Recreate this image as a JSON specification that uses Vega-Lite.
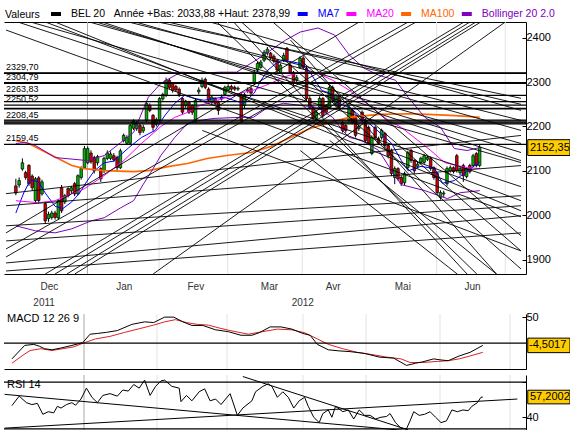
{
  "$schema": "https://vega.github.io/schema/vega-lite/v6.json",
  "background": "white",
  "padding": {"left": 3, "top": 7, "right": 0, "bottom": 0},
  "config": {
    "view": {"stroke": null},
    "font": "Liberation Sans",
    "axis": {"labelFont": "Liberation Sans", "titleFont": "Liberation Sans"},
    "legend": {"labelFont": "Liberation Sans", "titleFont": "Liberation Sans"},
    "title": {"font": "Liberation Sans"}
  },
  "spacing": 4,
  "resolve": {"scale": {"x": "independent", "y": "independent", "color": "independent"}},
  "datasets": {
    "grid": [{"b": 22.92}, {"b": 44.84}, {"b": 65.87}, {"b": 88.69}, {"b": 107.61}, {"b": 129.83}, {"b": 150.85}],
    "candles": [
      {"i":1,"o":2066,"h":2082,"l":2045,"c":2050},{"i":2,"o":2068,"h":2085,"l":2062,"c":2078},{"i":3,"o":2104,"h":2128,"l":2100,"c":2118},
      {"i":4,"o":2096,"h":2100,"l":2080,"c":2085},{"i":5,"o":2112,"h":2115,"l":2066,"c":2071},{"i":6,"o":2088,"h":2092,"l":2055,"c":2062},
      {"i":7,"o":2033,"h":2086,"l":2028,"c":2082},{"i":8,"o":2084,"h":2088,"l":2028,"c":2033},{"i":9,"o":2048,"h":2080,"l":2044,"c":2075},
      {"i":10,"o":2026,"h":2030,"l":1980,"c":1987},{"i":11,"o":1992,"h":2008,"l":1985,"c":2002},{"i":12,"o":1995,"h":2010,"l":1990,"c":2005},
      {"i":13,"o":2005,"h":2010,"l":1990,"c":1995},{"i":14,"o":1994,"h":2036,"l":1990,"c":2033},{"i":15,"o":2062,"h":2068,"l":2005,"c":2010},
      {"i":16,"o":2030,"h":2048,"l":2025,"c":2044},{"i":17,"o":2060,"h":2063,"l":2040,"c":2044},{"i":18,"o":2055,"h":2066,"l":2050,"c":2062},
      {"i":19,"o":2071,"h":2075,"l":2043,"c":2048},{"i":20,"o":2048,"h":2092,"l":2045,"c":2089},{"i":21,"o":2085,"h":2110,"l":2080,"c":2105},
      {"i":22,"o":2107,"h":2156,"l":2104,"c":2150},{"i":23,"o":2118,"h":2155,"l":2115,"c":2150},{"i":24,"o":2140,"h":2146,"l":2116,"c":2120},
      {"i":25,"o":2130,"h":2134,"l":2094,"c":2100},{"i":26,"o":2118,"h":2136,"l":2112,"c":2132},{"i":27,"o":2105,"h":2108,"l":2075,"c":2082},
      {"i":28,"o":2100,"h":2132,"l":2095,"c":2128},{"i":29,"o":2128,"h":2146,"l":2124,"c":2140},{"i":30,"o":2128,"h":2144,"l":2124,"c":2138},
      {"i":31,"o":2134,"h":2140,"l":2120,"c":2125},{"i":32,"o":2130,"h":2134,"l":2100,"c":2107},{"i":33,"o":2107,"h":2150,"l":2104,"c":2145},
      {"i":34,"o":2168,"h":2184,"l":2164,"c":2180},{"i":35,"o":2162,"h":2180,"l":2158,"c":2175},{"i":36,"o":2162,"h":2206,"l":2158,"c":2202},
      {"i":37,"o":2196,"h":2216,"l":2192,"c":2212},{"i":38,"o":2195,"h":2212,"l":2190,"c":2207},{"i":39,"o":2202,"h":2206,"l":2180,"c":2186},
      {"i":40,"o":2190,"h":2204,"l":2185,"c":2198},{"i":41,"o":2214,"h":2256,"l":2210,"c":2252},{"i":42,"o":2247,"h":2252,"l":2232,"c":2236},
      {"i":43,"o":2225,"h":2228,"l":2190,"c":2198},{"i":44,"o":2205,"h":2220,"l":2200,"c":2215},{"i":45,"o":2214,"h":2266,"l":2210,"c":2263},
      {"i":46,"o":2262,"h":2276,"l":2258,"c":2272},{"i":47,"o":2270,"h":2310,"l":2266,"c":2304},{"i":48,"o":2304,"h":2308,"l":2284,"c":2288},
      {"i":49,"o":2297,"h":2300,"l":2276,"c":2281},{"i":50,"o":2290,"h":2294,"l":2278,"c":2282},{"i":51,"o":2284,"h":2288,"l":2266,"c":2272},
      {"i":52,"o":2263,"h":2266,"l":2226,"c":2232},{"i":53,"o":2247,"h":2260,"l":2242,"c":2257},{"i":54,"o":2254,"h":2258,"l":2228,"c":2232},
      {"i":55,"o":2247,"h":2250,"l":2226,"c":2232},{"i":56,"o":2214,"h":2262,"l":2208,"c":2259},{"i":57,"o":2278,"h":2288,"l":2272,"c":2282},
      {"i":58,"o":2290,"h":2310,"l":2286,"c":2304},{"i":59,"o":2306,"h":2310,"l":2284,"c":2288},{"i":60,"o":2284,"h":2288,"l":2254,"c":2259},
      {"i":61,"o":2254,"h":2270,"l":2250,"c":2266},{"i":62,"o":2263,"h":2266,"l":2248,"c":2252},{"i":63,"o":2254,"h":2258,"l":2226,"c":2236},
      {"i":64,"o":2262,"h":2272,"l":2258,"c":2266},{"i":65,"o":2272,"h":2292,"l":2268,"c":2288},{"i":66,"o":2282,"h":2295,"l":2280,"c":2290},
      {"i":67,"o":2290,"h":2294,"l":2280,"c":2284},{"i":68,"o":2288,"h":2292,"l":2280,"c":2284},{"i":69,"o":2284,"h":2290,"l":2280,"c":2286},
      {"i":70,"o":2272,"h":2276,"l":2208,"c":2214},{"i":71,"o":2247,"h":2276,"l":2240,"c":2272},{"i":72,"o":2280,"h":2288,"l":2275,"c":2282},
      {"i":73,"o":2285,"h":2290,"l":2270,"c":2275},{"i":74,"o":2297,"h":2328,"l":2294,"c":2322},{"i":75,"o":2327,"h":2346,"l":2322,"c":2342},
      {"i":76,"o":2333,"h":2350,"l":2330,"c":2345},{"i":77,"o":2349,"h":2372,"l":2345,"c":2367},{"i":78,"o":2365,"h":2379,"l":2360,"c":2374},
      {"i":79,"o":2365,"h":2368,"l":2350,"c":2354},{"i":80,"o":2358,"h":2362,"l":2342,"c":2347},{"i":81,"o":2349,"h":2352,"l":2322,"c":2327},
      {"i":82,"o":2322,"h":2342,"l":2318,"c":2338},{"i":83,"o":2349,"h":2366,"l":2345,"c":2360},{"i":84,"o":2376,"h":2379,"l":2345,"c":2349},
      {"i":85,"o":2338,"h":2342,"l":2318,"c":2322},{"i":86,"o":2322,"h":2325,"l":2292,"c":2297},{"i":87,"o":2305,"h":2316,"l":2300,"c":2310},
      {"i":88,"o":2333,"h":2358,"l":2330,"c":2354},{"i":89,"o":2354,"h":2358,"l":2328,"c":2333},{"i":90,"o":2331,"h":2335,"l":2258,"c":2263},
      {"i":91,"o":2263,"h":2268,"l":2238,"c":2243},{"i":92,"o":2243,"h":2247,"l":2212,"c":2218},{"i":93,"o":2218,"h":2236,"l":2214,"c":2232},
      {"i":94,"o":2243,"h":2268,"l":2240,"c":2263},{"i":95,"o":2263,"h":2266,"l":2220,"c":2225},{"i":96,"o":2247,"h":2250,"l":2228,"c":2232},
      {"i":97,"o":2243,"h":2292,"l":2240,"c":2288},{"i":98,"o":2288,"h":2292,"l":2254,"c":2259},{"i":99,"o":2247,"h":2274,"l":2243,"c":2270},
      {"i":100,"o":2263,"h":2266,"l":2238,"c":2243},{"i":101,"o":2209,"h":2212,"l":2186,"c":2191},{"i":102,"o":2202,"h":2205,"l":2186,"c":2191},
      {"i":103,"o":2214,"h":2248,"l":2210,"c":2243},{"i":104,"o":2236,"h":2240,"l":2205,"c":2209},{"i":105,"o":2220,"h":2224,"l":2175,"c":2180},
      {"i":106,"o":2195,"h":2205,"l":2190,"c":2200},{"i":107,"o":2232,"h":2236,"l":2210,"c":2214},{"i":108,"o":2214,"h":2218,"l":2162,"c":2168},
      {"i":109,"o":2198,"h":2202,"l":2158,"c":2162},{"i":110,"o":2139,"h":2180,"l":2135,"c":2175},{"i":111,"o":2198,"h":2202,"l":2170,"c":2175},
      {"i":112,"o":2173,"h":2177,"l":2158,"c":2162},{"i":113,"o":2175,"h":2195,"l":2170,"c":2191},{"i":114,"o":2184,"h":2188,"l":2152,"c":2157},
      {"i":115,"o":2157,"h":2160,"l":2128,"c":2134},{"i":116,"o":2146,"h":2150,"l":2088,"c":2094},{"i":117,"o":2085,"h":2110,"l":2070,"c":2105},
      {"i":118,"o":2105,"h":2108,"l":2078,"c":2082},{"i":119,"o":2085,"h":2090,"l":2066,"c":2071},{"i":120,"o":2073,"h":2098,"l":2068,"c":2094},
      {"i":121,"o":2107,"h":2145,"l":2103,"c":2141},{"i":122,"o":2146,"h":2150,"l":2118,"c":2123},{"i":123,"o":2123,"h":2126,"l":2094,"c":2100},
      {"i":124,"o":2110,"h":2120,"l":2105,"c":2115},{"i":125,"o":2119,"h":2132,"l":2115,"c":2128},{"i":126,"o":2119,"h":2138,"l":2115,"c":2134},
      {"i":127,"o":2126,"h":2134,"l":2122,"c":2130},{"i":128,"o":2128,"h":2132,"l":2100,"c":2105},{"i":129,"o":2107,"h":2110,"l":2080,"c":2085},
      {"i":130,"o":2094,"h":2097,"l":2046,"c":2051},{"i":131,"o":2040,"h":2056,"l":2035,"c":2051},{"i":132,"o":2048,"h":2055,"l":2040,"c":2050},
      {"i":133,"o":2071,"h":2110,"l":2066,"c":2105},{"i":134,"o":2100,"h":2112,"l":2096,"c":2107},{"i":135,"o":2107,"h":2110,"l":2094,"c":2098},
      {"i":136,"o":2134,"h":2138,"l":2096,"c":2100},{"i":137,"o":2096,"h":2110,"l":2090,"c":2105},{"i":138,"o":2112,"h":2116,"l":2075,"c":2089},
      {"i":139,"o":2087,"h":2108,"l":2083,"c":2105},{"i":140,"o":2112,"h":2116,"l":2094,"c":2098},{"i":141,"o":2112,"h":2138,"l":2108,"c":2134},
      {"i":142,"o":2139,"h":2142,"l":2108,"c":2112},{"i":143,"o":2112,"h":2158,"l":2108,"c":2152.35}
    ],
    "ma": [
      {"s":"MA7","i":1.00,"v":2005},{"s":"MA7","i":3.40,"v":2050},{"s":"MA7","i":5.50,"v":2080},{"s":"MA7","i":7.91,"v":2075},{"s":"MA7","i":10.01,"v":2050},
      {"s":"MA7","i":13.01,"v":2020},{"s":"MA7","i":15.41,"v":2015},{"s":"MA7","i":18.12,"v":2030},{"s":"MA7","i":20.52,"v":2050},{"s":"MA7","i":22.62,"v":2075},
      {"s":"MA7","i":25.02,"v":2100},{"s":"MA7","i":28.03,"v":2118},{"s":"MA7","i":31.03,"v":2122},{"s":"MA7","i":35.53,"v":2152},{"s":"MA7","i":39.44,"v":2175},
      {"s":"MA7","i":43.64,"v":2191},{"s":"MA7","i":46.65,"v":2225},{"s":"MA7","i":49.65,"v":2252},{"s":"MA7","i":52.65,"v":2270},{"s":"MA7","i":55.66,"v":2263},
      {"s":"MA7","i":58.66,"v":2259},{"s":"MA7","i":61.66,"v":2263},{"s":"MA7","i":64.66,"v":2266},{"s":"MA7","i":67.67,"v":2259},{"s":"MA7","i":70.67,"v":2252},
      {"s":"MA7","i":73.97,"v":2275},{"s":"MA7","i":76.08,"v":2304},{"s":"MA7","i":78.18,"v":2327},{"s":"MA7","i":81.18,"v":2345},{"s":"MA7","i":82.98,"v":2349},
      {"s":"MA7","i":88.09,"v":2342},{"s":"MA7","i":91.09,"v":2322},{"s":"MA7","i":93.19,"v":2297},{"s":"MA7","i":94.69,"v":2281},{"s":"MA7","i":97.10,"v":2275},
      {"s":"MA7","i":99.20,"v":2254},{"s":"MA7","i":103.10,"v":2243},{"s":"MA7","i":107.00,"v":2220},{"s":"MA7","i":111.51,"v":2192},{"s":"MA7","i":116.02,"v":2162},
      {"s":"MA7","i":119.02,"v":2123},{"s":"MA7","i":121.12,"v":2100},{"s":"MA7","i":125.02,"v":2110},{"s":"MA7","i":129.23,"v":2105},{"s":"MA7","i":131.63,"v":2072},
      {"s":"MA7","i":135.23,"v":2078},{"s":"MA7","i":138.24,"v":2094},{"s":"MA7","i":143.04,"v":2120},
      {"s":"MA20","i":1.00,"v":2032.6},{"s":"MA20","i":7.91,"v":2028.1},{"s":"MA20","i":13.01,"v":2032.6},{"s":"MA20","i":18.12,"v":2048.5},{"s":"MA20","i":22.02,"v":2059.8},
      {"s":"MA20","i":28.03,"v":2089.2},{"s":"MA20","i":34.03,"v":2123.1},{"s":"MA20","i":39.44,"v":2161.6},{"s":"MA20","i":45.44,"v":2200.0},{"s":"MA20","i":49.65,"v":2220.4},
      {"s":"MA20","i":53.55,"v":2231.7},{"s":"MA20","i":57.46,"v":2247.5},{"s":"MA20","i":61.66,"v":2256.6},{"s":"MA20","i":65.56,"v":2265.6},{"s":"MA20","i":69.47,"v":2274.7},
      {"s":"MA20","i":73.67,"v":2281.5},{"s":"MA20","i":79.08,"v":2297.3},{"s":"MA20","i":82.98,"v":2311.1},{"s":"MA20","i":88.09,"v":2322.2},{"s":"MA20","i":93.19,"v":2319.9},
      {"s":"MA20","i":98.00,"v":2304.1},{"s":"MA20","i":103.10,"v":2281.5},{"s":"MA20","i":109.11,"v":2247.5},{"s":"MA20","i":115.11,"v":2213.6},{"s":"MA20","i":119.02,"v":2197.8},
      {"s":"MA20","i":124.12,"v":2168.4},{"s":"MA20","i":128.03,"v":2145.7},{"s":"MA20","i":132.23,"v":2118.6},{"s":"MA20","i":136.14,"v":2111.8},{"s":"MA20","i":139.14,"v":2107.3},
      {"s":"MA20","i":143.04,"v":2105.0},
      {"s":"MA100","i":1.00,"v":2168.0},{"s":"MA100","i":4.90,"v":2161.6},{"s":"MA100","i":10.91,"v":2139.0},{"s":"MA100","i":18.12,"v":2111.8},{"s":"MA100","i":22.02,"v":2105.0},
      {"s":"MA100","i":28.03,"v":2100.5},{"s":"MA100","i":37.04,"v":2098.2},{"s":"MA100","i":41.54,"v":2100.5},{"s":"MA100","i":47.55,"v":2109.5},{"s":"MA100","i":53.55,"v":2116.3},
      {"s":"MA100","i":59.56,"v":2127.6},{"s":"MA100","i":65.56,"v":2134.4},{"s":"MA100","i":73.07,"v":2141.2},{"s":"MA100","i":79.08,"v":2154.8},{"s":"MA100","i":85.08,"v":2175.1},
      {"s":"MA100","i":91.09,"v":2195.5},{"s":"MA100","i":97.10,"v":2209.1},{"s":"MA100","i":103.10,"v":2220.4},{"s":"MA100","i":112.11,"v":2227.2},{"s":"MA100","i":121.12,"v":2228.5},
      {"s":"MA100","i":127.13,"v":2227.2},{"s":"MA100","i":134.03,"v":2224.9},{"s":"MA100","i":139.14,"v":2222.7},{"s":"MA100","i":143.04,"v":2220.4},
      {"s":"Bollinger 20 2.0","b":"up","i":1.00,"v":2161.6},{"s":"Bollinger 20 2.0","b":"up","i":4.00,"v":2163.8},{"s":"Bollinger 20 2.0","b":"up","i":7.01,"v":2157.0},
      {"s":"Bollinger 20 2.0","b":"up","i":13.01,"v":2129.9},{"s":"Bollinger 20 2.0","b":"up","i":22.92,"v":2123.1},{"s":"Bollinger 20 2.0","b":"up","i":28.03,"v":2134.4},
      {"s":"Bollinger 20 2.0","b":"up","i":33.13,"v":2163.8},{"s":"Bollinger 20 2.0","b":"up","i":37.04,"v":2186.5},{"s":"Bollinger 20 2.0","b":"up","i":41.54,"v":2265.6},
      {"s":"Bollinger 20 2.0","b":"up","i":45.44,"v":2297.3},{"s":"Bollinger 20 2.0","b":"up","i":51.45,"v":2322.2},{"s":"Bollinger 20 2.0","b":"up","i":57.46,"v":2319.9},
      {"s":"Bollinger 20 2.0","b":"up","i":63.46,"v":2322.2},{"s":"Bollinger 20 2.0","b":"up","i":68.57,"v":2322.2},{"s":"Bollinger 20 2.0","b":"up","i":74.57,"v":2349.4},
      {"s":"Bollinger 20 2.0","b":"up","i":79.08,"v":2372.0},{"s":"Bollinger 20 2.0","b":"up","i":83.58,"v":2394.6},{"s":"Bollinger 20 2.0","b":"up","i":88.09,"v":2412.7},
      {"s":"Bollinger 20 2.0","b":"up","i":93.49,"v":2421.8},{"s":"Bollinger 20 2.0","b":"up","i":98.60,"v":2405.9},{"s":"Bollinger 20 2.0","b":"up","i":103.10,"v":2360.7},
      {"s":"Bollinger 20 2.0","b":"up","i":107.61,"v":2331.3},{"s":"Bollinger 20 2.0","b":"up","i":112.11,"v":2315.4},{"s":"Bollinger 20 2.0","b":"up","i":117.22,"v":2304.1},
      {"s":"Bollinger 20 2.0","b":"up","i":121.12,"v":2265.6},{"s":"Bollinger 20 2.0","b":"up","i":126.23,"v":2220.4},{"s":"Bollinger 20 2.0","b":"up","i":131.03,"v":2197.8},
      {"s":"Bollinger 20 2.0","b":"up","i":135.23,"v":2150.3},{"s":"Bollinger 20 2.0","b":"up","i":139.14,"v":2145.7},{"s":"Bollinger 20 2.0","b":"up","i":143.04,"v":2152.5},
      {"s":"Bollinger 20 2.0","b":"lo","i":1.00,"v":1976.1},{"s":"Bollinger 20 2.0","b":"lo","i":7.01,"v":1964.8},{"s":"Bollinger 20 2.0","b":"lo","i":13.01,"v":1960.2},
      {"s":"Bollinger 20 2.0","b":"lo","i":18.12,"v":1969.3},{"s":"Bollinger 20 2.0","b":"lo","i":24.12,"v":1987.4},{"s":"Bollinger 20 2.0","b":"lo","i":28.03,"v":1994.2},
      {"s":"Bollinger 20 2.0","b":"lo","i":33.13,"v":2016.8},{"s":"Bollinger 20 2.0","b":"lo","i":37.04,"v":2032.6},{"s":"Bollinger 20 2.0","b":"lo","i":40.04,"v":2070},
      {"s":"Bollinger 20 2.0","b":"lo","i":43.04,"v":2105},{"s":"Bollinger 20 2.0","b":"lo","i":45.44,"v":2135},{"s":"Bollinger 20 2.0","b":"lo","i":49.65,"v":2175.2},
      {"s":"Bollinger 20 2.0","b":"lo","i":53.55,"v":2206.8},{"s":"Bollinger 20 2.0","b":"lo","i":57.46,"v":2213.6},{"s":"Bollinger 20 2.0","b":"lo","i":61.66,"v":2218.1},
      {"s":"Bollinger 20 2.0","b":"lo","i":69.47,"v":2220.4},{"s":"Bollinger 20 2.0","b":"lo","i":73.67,"v":2220.4},{"s":"Bollinger 20 2.0","b":"lo","i":78.18,"v":2243.0},
      {"s":"Bollinger 20 2.0","b":"lo","i":82.98,"v":2252.1},{"s":"Bollinger 20 2.0","b":"lo","i":88.09,"v":2247.5},{"s":"Bollinger 20 2.0","b":"lo","i":93.19,"v":2243.0},
      {"s":"Bollinger 20 2.0","b":"lo","i":98.00,"v":2220.4},{"s":"Bollinger 20 2.0","b":"lo","i":101.00,"v":2191.0},{"s":"Bollinger 20 2.0","b":"lo","i":103.10,"v":2175.2},
      {"s":"Bollinger 20 2.0","b":"lo","i":107.00,"v":2168.4},{"s":"Bollinger 20 2.0","b":"lo","i":112.11,"v":2145.7},{"s":"Bollinger 20 2.0","b":"lo","i":116.02,"v":2100.5},
      {"s":"Bollinger 20 2.0","b":"lo","i":119.02,"v":2068.8},{"s":"Bollinger 20 2.0","b":"lo","i":126.23,"v":2055.3},{"s":"Bollinger 20 2.0","b":"lo","i":133.13,"v":2037.2},
      {"s":"Bollinger 20 2.0","b":"lo","i":137.04,"v":2050.7},{"s":"Bollinger 20 2.0","b":"lo","i":143.04,"v":2055.3}
    ],
    "trend": [
      {"id":"d1","i":-2.0,"v":2417.2},{"id":"d1","i":155.66,"v":1996.4},
      {"id":"d2","i":1.60,"v":2435.3},{"id":"d2","i":155.66,"v":2064.3},
      {"id":"d3","i":5.50,"v":2435.3},{"id":"d3","i":155.66,"v":2118.6},
      {"id":"d4","i":10.01,"v":2435.3},{"id":"d4","i":155.66,"v":2032.6},
      {"id":"d5","i":13.01,"v":2435.3},{"id":"d5","i":155.66,"v":2010.0},
      {"id":"d6","i":23.52,"v":2435.3},{"id":"d6","i":155.66,"v":2161.6},
      {"id":"d7","i":25.62,"v":2435.3},{"id":"d7","i":155.66,"v":2141.2},
      {"id":"d8","i":27.43,"v":2435.3},{"id":"d8","i":155.66,"v":2123.1},
      {"id":"d9","i":35.53,"v":2435.3},{"id":"d9","i":155.66,"v":2213.6},
      {"id":"d10","i":37.64,"v":2435.3},{"id":"d10","i":155.66,"v":2191.0},
      {"id":"d11","i":44.54,"v":2435.3},{"id":"d11","i":155.66,"v":2263.4},
      {"id":"d12","i":47.55,"v":2435.3},{"id":"d12","i":155.66,"v":2249.8},
      {"id":"d13","i":60.46,"v":2435.3},{"id":"d13","i":155.66,"v":2236.2},
      {"id":"d14","i":62.56,"v":2435.3},{"id":"d14","i":142.14,"v":1867.5},
      {"id":"d15","i":67.67,"v":2435.3},{"id":"d15","i":139.14,"v":1867.5},
      {"id":"d16","i":70.07,"v":2435.3},{"id":"d16","i":155.66,"v":1878.8},
      {"id":"d17","i":79.68,"v":2435.3},{"id":"d17","i":155.66,"v":1953.4},
      {"id":"d18","i":85.08,"v":2394.6},{"id":"d18","i":148.15,"v":1867.5},
      {"id":"d19","i":88.09,"v":2349.4},{"id":"d19","i":155.66,"v":1919.5},
      {"id":"a1","i":-2.0,"v":1960.2},{"id":"a1","i":106.11,"v":2435.3},
      {"id":"a2","i":-2.0,"v":1924.0},{"id":"a2","i":121.12,"v":2435.3},
      {"id":"a3","i":-2.0,"v":1905.9},{"id":"a3","i":123.52,"v":2435.3},
      {"id":"a4","i":10.01,"v":1867.5},{"id":"a4","i":138.24,"v":2435.3},
      {"id":"a5","i":13.01,"v":1867.5},{"id":"a5","i":140.04,"v":2435.3},
      {"id":"a6","i":16.62,"v":1867.5},{"id":"a6","i":141.84,"v":2435.3},
      {"id":"a7","i":19.02,"v":1867.5},{"id":"a7","i":143.34,"v":2435.3},
      {"id":"a8","i":43.04,"v":1867.5},{"id":"a8","i":150.85,"v":2435.3},
      {"id":"g1","i":-2.0,"v":2048.5},{"id":"g1","i":155.66,"v":2179.7},
      {"id":"g2","i":-2.0,"v":2021.3},{"id":"g2","i":155.66,"v":2111.8},
      {"id":"g3","i":-2.0,"v":1976.1},{"id":"g3","i":155.66,"v":2043.9},
      {"id":"g4","i":-2.0,"v":1942.1},{"id":"g4","i":155.66,"v":2021.3},
      {"id":"g5","i":-2.0,"v":1892.4},{"id":"g5","i":155.66,"v":1998.7},
      {"id":"g6","i":-2.0,"v":1874.3},{"id":"g6","i":155.66,"v":1960.2},
      {"id":"s1","i":88.09,"v":2145.7},{"id":"s1","i":136.14,"v":1867.5},
      {"id":"s2","i":97.10,"v":2168.4},{"id":"s2","i":148.15,"v":1867.5},
      {"id":"s3","i":58.06,"v":2191.0},{"id":"s3","i":155.66,"v":1919.5}
    ],
    "levels": [
      {"level": 2320.8, "label": "2329,70"}, {"level": 2319.4, "label": null},
      {"level": 2297.2, "label": "2304,79"}, {"level": 2298.6, "label": null},
      {"level": 2270.0, "label": "2263,83"},
      {"level": 2248.0, "label": "2250,52"}, {"level": 2256.0, "label": null},
      {"level": 2240.6, "label": null}, {"level": 2239.4, "label": null},
      {"level": 2214.5, "label": null}, {"level": 2212.3, "label": "2208,45"},
      {"level": 2210.0, "label": null}, {"level": 2207.8, "label": null}, {"level": 2205.6, "label": null},
      {"level": 2159.45, "label": "2159,45"}
    ],
    "macd": [
      {"s":"MACD","i":1.28,"v":-30.5},{"s":"MACD","i":5.10,"v":-4.6},{"s":"MACD","i":7.83,"v":-2.5},{"s":"MACD","i":9.47,"v":-6.0},{"s":"MACD","i":11.10,"v":-10.9},
      {"s":"MACD","i":13.29,"v":-13.0},{"s":"MACD","i":16.02,"v":-9.5},{"s":"MACD","i":19.29,"v":-4.6},{"s":"MACD","i":22.57,"v":1.0},{"s":"MACD","i":24.75,"v":17.1},
      {"s":"MACD","i":26.94,"v":18.5},{"s":"MACD","i":29.67,"v":20.6},{"s":"MACD","i":32.94,"v":24.1},{"s":"MACD","i":37.31,"v":36.0},{"s":"MACD","i":41.13,"v":40.9},
      {"s":"MACD","i":43.86,"v":39.5},{"s":"MACD","i":47.14,"v":50.0},{"s":"MACD","i":49.87,"v":50.0},{"s":"MACD","i":52.60,"v":40.9},{"s":"MACD","i":55.33,"v":33.9},
      {"s":"MACD","i":58.61,"v":33.9},{"s":"MACD","i":62.43,"v":25.5},{"s":"MACD","i":66.25,"v":22.0},{"s":"MACD","i":70.07,"v":15.0},{"s":"MACD","i":73.35,"v":15.0},
      {"s":"MACD","i":75.53,"v":19.9},{"s":"MACD","i":78.81,"v":31.1},{"s":"MACD","i":82.08,"v":31.1},{"s":"MACD","i":85.36,"v":26.9},{"s":"MACD","i":88.64,"v":18.5},
      {"s":"MACD","i":90.82,"v":15.0},{"s":"MACD","i":93.00,"v":-2.5},{"s":"MACD","i":96.28,"v":-13.0},{"s":"MACD","i":99.56,"v":-15.1},{"s":"MACD","i":102.83,"v":-16.5},
      {"s":"MACD","i":107.20,"v":-20.0},{"s":"MACD","i":111.57,"v":-27.0},{"s":"MACD","i":115.94,"v":-29.1},{"s":"MACD","i":119.76,"v":-43.1},{"s":"MACD","i":122.49,"v":-38.9},
      {"s":"MACD","i":124.67,"v":-36.1},{"s":"MACD","i":127.95,"v":-30.5},{"s":"MACD","i":130.13,"v":-32.6},{"s":"MACD","i":132.32,"v":-34.0},{"s":"MACD","i":135.59,"v":-24.9},
      {"s":"MACD","i":138.87,"v":-17.9},{"s":"MACD","i":142.69,"v":-4.5},
      {"s":"Signal","i":1.28,"v":-38.9},{"s":"Signal","i":4.55,"v":-23.5},{"s":"Signal","i":6.74,"v":-14.4},{"s":"Signal","i":10.01,"v":-10.9},{"s":"Signal","i":13.29,"v":-14.4},
      {"s":"Signal","i":16.56,"v":-10.9},{"s":"Signal","i":19.84,"v":-7.4},{"s":"Signal","i":22.57,"v":-0.4},{"s":"Signal","i":26.39,"v":8.0},{"s":"Signal","i":30.76,"v":12.9},
      {"s":"Signal","i":35.13,"v":20.6},{"s":"Signal","i":39.50,"v":27.6},{"s":"Signal","i":43.86,"v":34.6},{"s":"Signal","i":47.14,"v":40.9},{"s":"Signal","i":50.42,"v":45.1},
      {"s":"Signal","i":53.69,"v":39.5},{"s":"Signal","i":56.97,"v":36.0},{"s":"Signal","i":60.24,"v":34.6},{"s":"Signal","i":63.52,"v":29.0},{"s":"Signal","i":66.80,"v":24.1},
      {"s":"Signal","i":72.26,"v":17.1},{"s":"Signal","i":76.62,"v":22.0},{"s":"Signal","i":80.99,"v":26.9},{"s":"Signal","i":85.36,"v":25.5},{"s":"Signal","i":89.18,"v":19.9},
      {"s":"Signal","i":93.00,"v":8.0},{"s":"Signal","i":96.28,"v":-2.5},{"s":"Signal","i":100.65,"v":-10.9},{"s":"Signal","i":105.02,"v":-17.9},{"s":"Signal","i":109.39,"v":-22.1},
      {"s":"Signal","i":113.75,"v":-27.0},{"s":"Signal","i":118.12,"v":-30.5},{"s":"Signal","i":120.85,"v":-37.5},{"s":"Signal","i":124.67,"v":-37.5},{"s":"Signal","i":129.04,"v":-35.4},
      {"s":"Signal","i":132.32,"v":-34.0},{"s":"Signal","i":135.59,"v":-30.5},{"s":"Signal","i":138.87,"v":-24.9},{"s":"Signal","i":142.69,"v":-17.9}
    ],
    "rsi": [
      {"i":1.28,"v":49.9},{"i":3.46,"v":58.0},{"i":5.64,"v":52.4},{"i":7.28,"v":50.8},{"i":8.92,"v":51.8},{"i":10.56,"v":42.5},{"i":12.20,"v":44.7},{"i":13.83,"v":43.7},
      {"i":14.93,"v":49.3},{"i":16.02,"v":47.8},{"i":17.66,"v":50.8},{"i":19.29,"v":52.4},{"i":20.39,"v":50.2},{"i":22.02,"v":55.5},{"i":23.66,"v":64.8},{"i":25.30,"v":57.0},
      {"i":26.94,"v":52.4},{"i":28.58,"v":58.6},{"i":30.76,"v":60.1},{"i":32.94,"v":58.0},{"i":34.58,"v":63.2},{"i":36.22,"v":62.3},{"i":37.86,"v":67.9},{"i":39.50,"v":64.8},
      {"i":41.13,"v":71.6},{"i":42.77,"v":58.6},{"i":44.41,"v":66.3},{"i":46.05,"v":71.0},{"i":47.14,"v":71.6},{"i":49.32,"v":66.3},{"i":51.51,"v":64.8},{"i":52.05,"v":53.3},
      {"i":53.69,"v":58.6},{"i":55.33,"v":54.0},{"i":57.51,"v":61.7},{"i":59.15,"v":64.2},{"i":60.79,"v":54.0},{"i":62.43,"v":55.5},{"i":64.07,"v":50.8},{"i":66.80,"v":60.1},
      {"i":68.98,"v":41.6},{"i":70.62,"v":47.8},{"i":73.35,"v":54.0},{"i":74.44,"v":61.7},{"i":76.62,"v":66.3},{"i":78.26,"v":68.5},{"i":79.35,"v":66.3},{"i":80.99,"v":57.0},
      {"i":82.63,"v":61.7},{"i":84.27,"v":57.0},{"i":85.91,"v":47.8},{"i":87.54,"v":54.0},{"i":89.18,"v":57.0},{"i":90.27,"v":49.3},{"i":91.91,"v":40.0},{"i":93.55,"v":35.4},
      {"i":94.64,"v":43.1},{"i":96.28,"v":46.2},{"i":97.37,"v":40.0},{"i":98.46,"v":49.3},{"i":100.65,"v":44.7},{"i":102.29,"v":46.2},{"i":103.92,"v":38.5},{"i":105.56,"v":46.2},
      {"i":107.20,"v":41.6},{"i":108.84,"v":41.6},{"i":110.48,"v":38.5},{"i":112.11,"v":40.0},{"i":113.75,"v":40.6},{"i":114.84,"v":43.1},{"i":116.48,"v":35.4},{"i":118.12,"v":30.7},
      {"i":119.76,"v":30.1},{"i":120.85,"v":36.9},{"i":121.94,"v":44.7},{"i":123.58,"v":41.6},{"i":125.22,"v":42.5},{"i":126.86,"v":44.7},{"i":128.50,"v":40.0},{"i":130.13,"v":35.4},
      {"i":131.77,"v":36.9},{"i":133.41,"v":46.2},{"i":135.05,"v":44.7},{"i":136.69,"v":46.2},{"i":138.32,"v":45.6},{"i":139.41,"v":49.3},{"i":141.05,"v":52.4},{"i":142.14,"v":57.0},
      {"i":142.69,"v":57.2}
    ],
    "rsitrend": [
      {"id":"r1","i":-0.91,"v":59.5},{"id":"r1","i":126.86,"v":26.7},
      {"id":"r2","i":-0.91,"v":30.7},{"id":"r2","i":153.06,"v":55.5},
      {"id":"r3","i":70.62,"v":74.7},{"id":"r3","i":120.30,"v":29.2}
    ]
  },
  "vconcat": [
    {
      "width": 522,
      "height": 252,
      "resolve": {"axis": {"x": "independent"}},
      "layer": [
        {
          "data": {"name": "grid"},
          "mark": {"type": "rule", "strokeWidth": 1},
          "encoding": {
            "x": {"field": "b", "type": "quantitative", "scale": {"domain": [-1.1, 155.66], "nice": false, "zero": false},
              "axis": {"orient": "bottom", "title": null, "values": [11.09, 34.03, 55.95, 78.48, 97.99, 119.32, 140.64],
                "labelExpr": "datum.value < 20 ? 'Dec' : datum.value < 40 ? 'Jan' : datum.value < 60 ? 'Fev' : datum.value < 85 ? 'Mar' : datum.value < 110 ? 'Avr' : datum.value < 130 ? 'Mai' : 'Jun'",
                "ticks": false, "grid": false, "domainColor": "black", "domainWidth": 1, "labelPadding": 7, "labelFontSize": 10, "labelColor": "#333333",
                "labelOverlap": false, "labelBound": false, "labelFlush": false}},
            "color": {"condition": {"test": "datum.b < 30", "value": "#a8a8a8"}, "value": "#e3e3e3"}
          }
        },
        {
          "data": {"name": "candles"},
          "mark": {"type": "rule", "color": "black", "strokeWidth": 1},
          "encoding": {
            "x": {"field": "i", "type": "quantitative",
              "axis": {"orient": "bottom", "title": null, "values": [9.5, 88.69],
                "labelExpr": "datum.value < 50 ? '2011' : '2012'",
                "ticks": false, "grid": false, "domain": false, "labelPadding": 23, "labelFontSize": 10, "labelColor": "#333333",
                "labelOverlap": false, "labelBound": false, "labelFlush": false}},
            "y": {"field": "l", "type": "quantitative", "scale": {"domain": [1867.5, 2435.3], "nice": false, "zero": false},
              "axis": {"orient": "right", "title": null, "values": [1900, 1950, 2000, 2050, 2100, 2150, 2200, 2250, 2300, 2350, 2400], "format": "d",
                "labelExpr": "datum.value % 100 === 0 ? datum.label : ''", "tickSize": -4, "tickColor": "black", "domainColor": "black",
                "labelColor": "black", "labelFontSize": 11, "labelPadding": 4, "grid": false}},
            "y2": {"field": "h"}
          }
        },
        {
          "data": {"name": "candles"},
          "mark": {"type": "bar", "size": 2.6, "stroke": "black", "strokeWidth": 0.7},
          "encoding": {
            "x": {"field": "i", "type": "quantitative", "axis": null},
            "y": {"field": "o", "type": "quantitative"},
            "y2": {"field": "c"},
            "color": {"condition": {"test": "datum.c >= datum.o", "value": "#00b400"}, "value": "#d40000"}
          }
        },
        {
          "data": {"name": "ma"},
          "mark": {"type": "line", "clip": true},
          "encoding": {
            "x": {"field": "i", "type": "quantitative", "axis": null},
            "y": {"field": "v", "type": "quantitative"},
            "detail": {"field": "b"},
            "strokeWidth": {"condition": {"test": "datum.s === 'MA100'", "value": 1.6}, "value": 1},
            "color": {"field": "s", "type": "nominal",
              "scale": {"domain": ["BEL 20\u00a0\u00a0\u00a0Année +Bas: 2033,88 +Haut: 2378,99\u00a0\u00a0\u00a0\u00a0", "MA7", "MA20", "MA100", "Bollinger 20 2.0"],
                        "range": ["#000000", "#0000ff", "#ff00ff", "#ff6600", "#8000c0"]},
              "legend": {"orient": "none", "legendX": 1, "legendY": -15, "direction": "horizontal", "columns": 5,
                "title": "Valeurs", "titleOrient": "left", "titleFontSize": 10.5, "titleFontWeight": "normal", "titleColor": "black",
                "titlePadding": 9, "titleBaseline": "middle", "titleAnchor": "middle",
                "labelFontSize": 10.5,
                "labelColor": {"expr": "datum.label === 'MA7' ? '#0000ff' : datum.label === 'MA20' ? '#ff00ff' : datum.label === 'MA100' ? '#ff6600' : datum.label === 'Bollinger 20 2.0' ? '#8000c0' : '#000000'"},
                "labelLimit": 300, "labelOffset": 8,
                "columnPadding": -1.3, "symbolType": "stroke", "symbolStrokeWidth": 4, "symbolSize": 100, "padding": 0}}
          }
        },
        {
          "data": {"name": "trend"},
          "mark": {"type": "line", "color": "black", "strokeWidth": 0.9, "clip": true},
          "encoding": {
            "x": {"field": "i", "type": "quantitative",
              "axis": {"orient": "top", "labels": false, "ticks": false, "grid": false, "domainColor": "black", "title": null}},
            "y": {"field": "v", "type": "quantitative"},
            "detail": {"field": "id"}
          }
        },
        {
          "data": {"name": "levels"},
          "mark": {"type": "rule", "color": "black", "strokeWidth": 1.2},
          "encoding": {"y": {"field": "level", "type": "quantitative"}}
        },
        {
          "data": {"name": "levels"},
          "transform": [{"filter": "datum.label != null"}],
          "mark": {"type": "text", "align": "left", "baseline": "bottom", "dx": 2, "dy": -1, "fontSize": 9, "color": "black"},
          "encoding": {
            "x": {"value": 0},
            "y": {"field": "level", "type": "quantitative"},
            "text": {"field": "label"}
          }
        },
        {
          "data": {"values": [{"v": 2152.35, "t": "2152,35"}]},
          "mark": {"type": "point", "shape": "M0.08,-0.36H2V0.36H0.08Z", "size": 1936, "filled": true, "fill": "#ffcc00", "stroke": "black", "strokeWidth": 1, "opacity": 1},
          "encoding": {"x": {"value": "width"}, "y": {"field": "v", "type": "quantitative"}}
        },
        {
          "data": {"values": [{"v": 2152.35, "t": "2152,35"}]},
          "mark": {"type": "text", "align": "left", "baseline": "middle", "dx": 4, "fontSize": 11, "color": "black"},
          "encoding": {"x": {"value": "width"}, "y": {"field": "v", "type": "quantitative"}, "text": {"field": "t"}}
        }
      ]
    },
    {
      "width": 522,
      "height": 55,
      "title": {"text": "MACD 12 26 9", "anchor": "start", "offset": -13, "fontSize": 11, "fontWeight": "normal", "color": "black", "dx": 3, "frame": "group"},
      "layer": [
        {
          "data": {"name": "grid"},
          "mark": {"type": "rule", "strokeWidth": 1},
          "encoding": {
            "x": {"field": "b", "type": "quantitative", "scale": {"domain": [-1.1, 155.66], "nice": false, "zero": false},
              "axis": {"orient": "bottom", "labels": false, "ticks": false, "grid": false, "domainColor": "black", "title": null}},
            "color": {"condition": {"test": "datum.b < 30", "value": "#a8a8a8"}, "value": "#e3e3e3"}
          }
        },
        {
          "data": {"name": "macd"},
          "transform": [{"filter": "datum.s === 'Signal'"}],
          "mark": {"type": "line", "color": "#dd2222", "strokeWidth": 1},
          "encoding": {
            "x": {"field": "i", "type": "quantitative"},
            "y": {"field": "v", "type": "quantitative", "scale": {"domain": [-50, 56], "nice": false, "zero": false},
              "axis": {"orient": "right", "title": null, "values": [-50, -25, 0, 25, 50], "labelExpr": "datum.value === 50 ? '50' : ''",
                "tickSize": -4, "tickColor": "black", "domainColor": "black", "labelColor": "black", "labelFontSize": 11, "labelPadding": 4, "grid": false}}
          }
        },
        {
          "data": {"name": "macd"},
          "transform": [{"filter": "datum.s === 'MACD'"}],
          "mark": {"type": "line", "color": "black", "strokeWidth": 1},
          "encoding": {
            "x": {"field": "i", "type": "quantitative"},
            "y": {"field": "v", "type": "quantitative"}
          }
        },
        {
          "data": {"values": [{"z": 0}]},
          "mark": {"type": "rule", "color": "black", "strokeWidth": 1.2},
          "encoding": {"y": {"field": "z", "type": "quantitative"}}
        },
        {
          "data": {"values": [{"v": -4.5017, "t": "-4,5017"}]},
          "mark": {"type": "point", "shape": "M0.08,-0.33H2V0.33H0.08Z", "size": 1936, "filled": true, "fill": "#ffcc00", "stroke": "black", "strokeWidth": 1, "opacity": 1},
          "encoding": {"x": {"value": "width"}, "y": {"field": "v", "type": "quantitative"}}
        },
        {
          "data": {"values": [{"v": -4.5017, "t": "-4,5017"}]},
          "mark": {"type": "text", "align": "left", "baseline": "middle", "dx": 3, "fontSize": 11, "color": "black"},
          "encoding": {"x": {"value": "width"}, "y": {"field": "v", "type": "quantitative"}, "text": {"field": "t"}}
        }
      ]
    },
    {
      "width": 522,
      "height": 59,
      "title": {"text": "RSI 14", "anchor": "start", "offset": -15, "fontSize": 11, "fontWeight": "normal", "color": "black", "dx": 3, "frame": "group"},
      "layer": [
        {
          "data": {"name": "grid"},
          "mark": {"type": "rule", "strokeWidth": 1},
          "encoding": {
            "x": {"field": "b", "type": "quantitative", "scale": {"domain": [-1.1, 155.66], "nice": false, "zero": false},
              "axis": {"orient": "bottom", "labels": false, "ticks": false, "grid": false, "domainColor": "black", "title": null}},
            "color": {"condition": {"test": "datum.b < 30", "value": "#a8a8a8"}, "value": "#e3e3e3"}
          }
        },
        {
          "data": {"values": [{"z": 70}, {"z": 30}]},
          "mark": {"type": "rule", "color": "black", "strokeWidth": 1.2},
          "encoding": {"y": {"field": "z", "type": "quantitative"}}
        },
        {
          "data": {"name": "rsitrend"},
          "mark": {"type": "line", "color": "black", "strokeWidth": 1, "clip": true},
          "encoding": {
            "x": {"field": "i", "type": "quantitative"},
            "y": {"field": "v", "type": "quantitative"},
            "detail": {"field": "id"}
          }
        },
        {
          "data": {"name": "rsi"},
          "mark": {"type": "line", "color": "black", "strokeWidth": 1},
          "encoding": {
            "x": {"field": "i", "type": "quantitative"},
            "y": {"field": "v", "type": "quantitative", "scale": {"domain": [25.7, 76], "nice": false, "zero": false},
              "axis": {"orient": "right", "title": null, "values": [40, 50, 60, 70], "labelExpr": "datum.value === 40 ? '40' : ''",
                "tickSize": -4, "tickColor": "black", "domainColor": "black", "labelColor": "black", "labelFontSize": 11, "labelPadding": 4, "grid": false}}
          }
        },
        {
          "data": {"values": [{"v": 57.2002, "t": "57,2002"}]},
          "mark": {"type": "point", "shape": "M0.08,-0.31H2V0.31H0.08Z", "size": 1936, "filled": true, "fill": "#ffcc00", "stroke": "black", "strokeWidth": 1, "opacity": 1},
          "encoding": {"x": {"value": "width"}, "y": {"field": "v", "type": "quantitative"}}
        },
        {
          "data": {"values": [{"v": 57.2002, "t": "57,2002"}]},
          "mark": {"type": "text", "align": "left", "baseline": "middle", "dx": 4, "fontSize": 11, "color": "black"},
          "encoding": {"x": {"value": "width"}, "y": {"field": "v", "type": "quantitative"}, "text": {"field": "t"}}
        }
      ]
    }
  ]
}
